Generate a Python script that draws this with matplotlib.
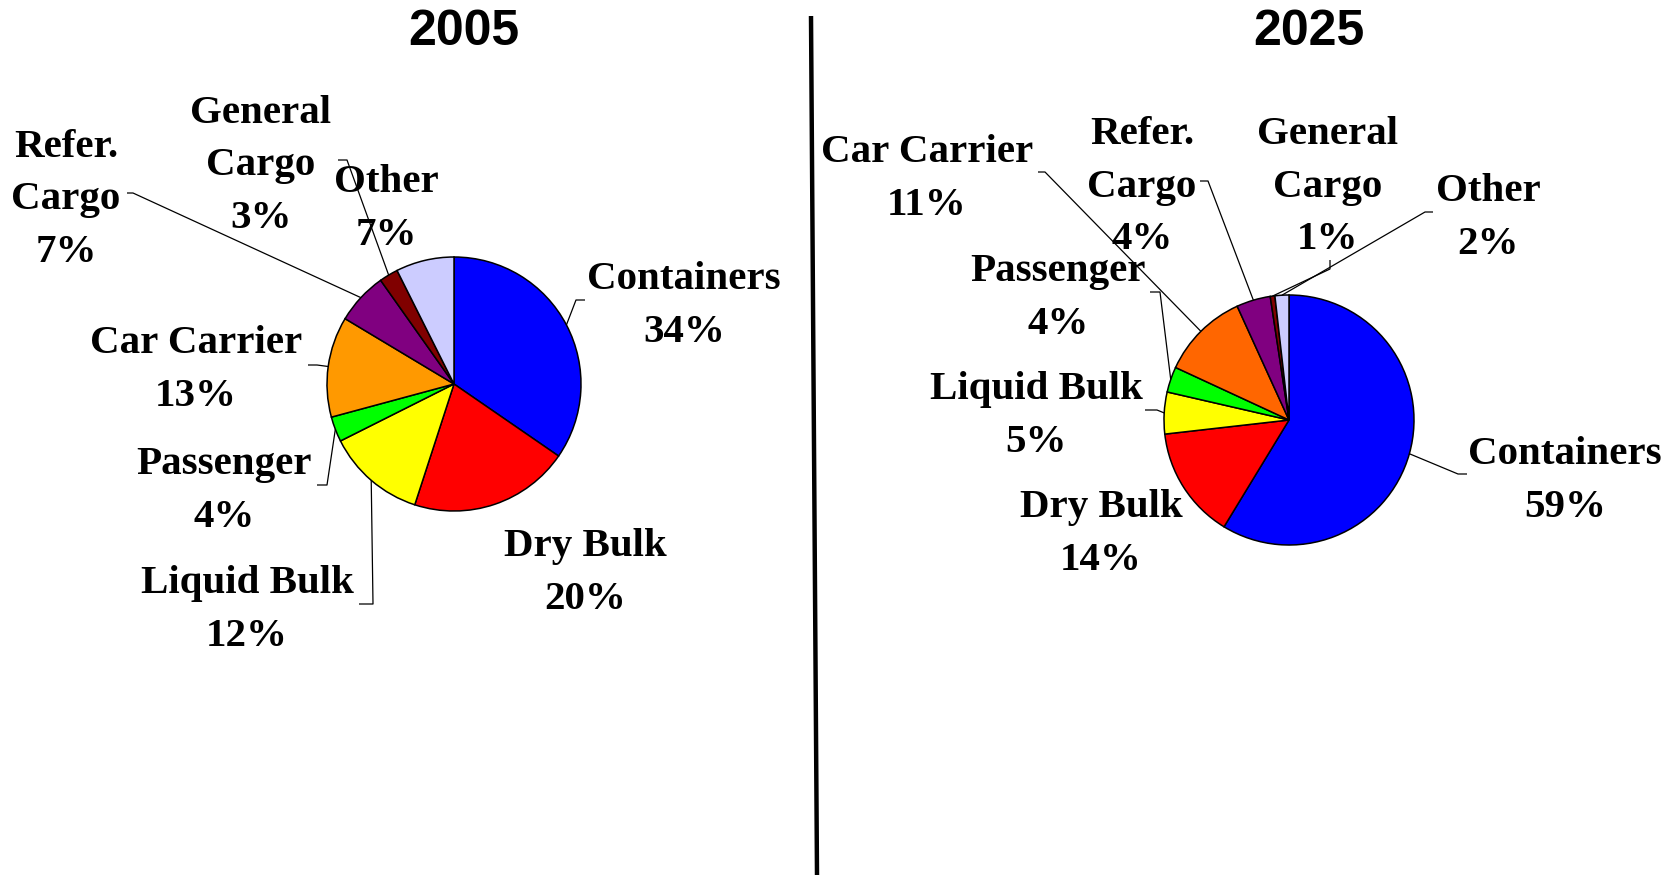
import matplotlib
matplotlib.use("Agg")
import matplotlib.pyplot as plt
import numpy as np

# ---------------- data ----------------
categories = ["Containers", "Dry Bulk", "Liquid Bulk", "Passenger",
              "Car Carrier", "Refer.\nCargo", "General\nCargo", "Other"]
share_2005 = [34.6, 20.4, 12.6, 3.2, 12.8, 6.6, 2.4, 7.4]
share_2025 = [58.7, 14.5, 5.4, 3.3, 11.3, 4.4, 0.6, 1.8]
pct_2005 = ["34%", "20%", "12%", "4%", "13%", "7%", "3%", "7%"]
pct_2025 = ["59%", "14%", "5%", "4%", "11%", "4%", "1%", "2%"]
colors_2005 = ["#0000FF", "#FF0000", "#FFFF00", "#00FF00",
               "#FF9900", "#800080", "#800000", "#CCCCFF"]
colors_2025 = ["#0000FF", "#FF0000", "#FFFF00", "#00FF00",
               "#FF6600", "#800080", "#800000", "#CCCCFF"]
years = ["2005", "2025"]

W, H = 1669, 875
fig = plt.figure(figsize=(W / 100, H / 100), dpi=100)
ax = fig.add_axes([0, 0, 1, 1])


def Y(y):
    return H - y


SERIF = ["Liberation Serif", "DejaVu Serif"]
SANS = ["Liberation Sans", "DejaVu Sans"]
LABEL_DY = 4  # small downward nudge for label blocks (pixels)

# layout (image pixel coords)
layouts = [
    dict(center=(454, 384), radius=127, title=(464, 32),
         labels=[(684, 302), (585, 569), (247, 606), (224, 487),
                 (196, 366), (66, 196), (261, 162), (386, 205)],
         leaders=[((576, 300), (585, 300)), None, ((373, 604), (359, 604)),
                  ((327, 485), (317, 485)), ((317, 365), (308, 365)),
                  ((133, 193), (127, 193)), ((347, 160), (338, 160)), None]),
    dict(center=(1289, 420), radius=125, title=(1309, 32),
         labels=[(1565, 477), (1101, 530), (1036, 412), (1058, 294),
                 (927, 175), (1142, 183), (1328, 183), (1488, 214)],
         leaders=[((1458, 474), (1467, 474)), None, ((1157, 410), (1145, 410)),
                  ((1160, 292), (1150, 292)), ((1045, 172), (1038, 172)),
                  ((1208, 181), (1200, 181)), ((1330, 269), (1330, 260)),
                  ((1425, 212), (1433, 212))]),
]
datasets = [(share_2005, pct_2005, colors_2005), (share_2025, pct_2025, colors_2025)]

for (vals, pcts, cols), lay, yr in zip(datasets, layouts, years):
    cx, cy = lay["center"]
    r = lay["radius"]
    wedges, _ = ax.pie(vals, colors=cols, startangle=90, counterclock=False,
                       center=(cx, Y(cy)), radius=r,
                       wedgeprops=dict(edgecolor="black", linewidth=1.1))
    for w, cat, pct, (lx, ly), lead in zip(wedges, categories, pcts,
                                          lay["labels"], lay["leaders"]):
        ax.text(lx, Y(ly + LABEL_DY), cat + "\n" + pct, ha="center", va="center",
                family=SERIF, fontweight="bold", fontsize=29.5,
                linespacing=1.57, color="black")
        if lead is not None:
            mid = np.deg2rad((w.theta1 + w.theta2) / 2)
            px = cx + r * np.cos(mid)
            py = Y(cy) + r * np.sin(mid)
            (ex, ey), (tx, ty) = lead
            ax.plot([px, ex, tx], [py, Y(ey), Y(ty)], color="black",
                    lw=0.9, solid_capstyle="butt", zorder=5)
    tx, ty = lay["title"]
    ax.text(tx, Y(ty), yr, ha="center", va="center", family=SANS,
            fontweight="bold", fontsize=36, color="black")

# divider line
ax.plot([811, 817], [Y(16), Y(875)], color="black", lw=3.2,
        solid_capstyle="butt")

ax.set_xlim(0, W)
ax.set_ylim(0, H)
ax.set_aspect("equal")
ax.axis("off")
fig.savefig("out.png", dpi=100, facecolor="white")
